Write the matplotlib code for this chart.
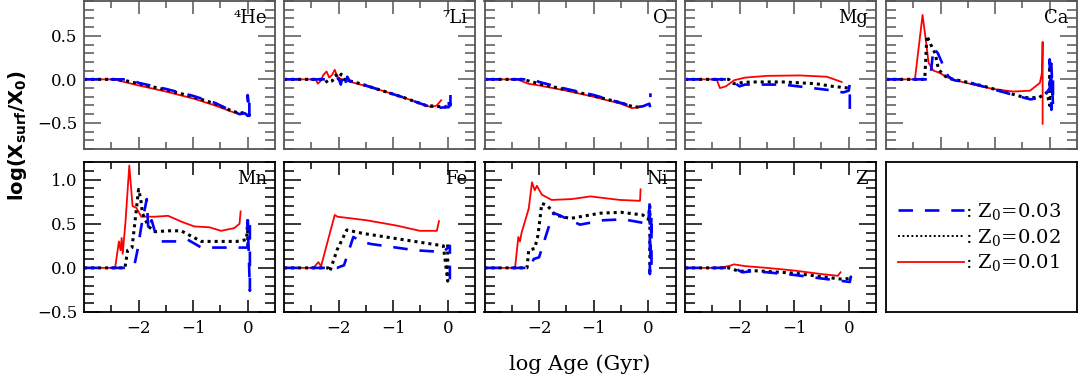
import matplotlib
matplotlib.use("Agg")
import matplotlib.pyplot as plt
from matplotlib.ticker import MultipleLocator, FixedLocator
from matplotlib.lines import Line2D

plt.rcParams['font.family'] = 'DejaVu Serif'
plt.rcParams['mathtext.fontset'] = 'custom'
plt.rcParams['mathtext.rm'] = 'DejaVu Serif'
plt.rcParams['mathtext.bf'] = 'DejaVu Sans:bold'

# ---- data: (log age, log Xsurf/X0) per element and initial Z ----
# Z0 = 0.01 (red), 0.02 (black), 0.03 (blue)
he_red = ([-3.0, -2.45, -2.2, -2.0, -1.5, -1.0, -0.6, -0.3, -0.15, -0.1],
          [0.0, 0.0, -0.04, -0.07, -0.14, -0.22, -0.3, -0.37, -0.4, -0.38])
he_black = ([-3.0, -2.45, -2.2, -2.0, -1.5, -1.0, -0.6, -0.3, -0.15, -0.05],
            [0.0, 0.0, -0.02, -0.05, -0.12, -0.2, -0.28, -0.36, -0.39, -0.38])
he_blue = ([-3.0, -2.15, -2.0, -1.5, -1.0, -0.6, -0.3, -0.15, -0.05, 0.0, 0.0, 0.02, 0.03, 0.03],
           [0.0, 0.0, -0.04, -0.11, -0.19, -0.27, -0.36, -0.4, -0.39, -0.42, -0.18, -0.3, -0.42, -0.2])

li_red = ([-3.0, -2.42, -2.38, -2.33, -2.28, -2.22, -2.17, -2.12, -2.07, -2.02, -1.95, -1.6, -1.2, -0.8, -0.4, -0.3, -0.2, -0.12],
          [0.0, 0.0, -0.05, -0.02, 0.05, 0.09, 0.02, 0.05, 0.11, 0.03, 0.0, -0.06, -0.13, -0.21, -0.3, -0.32, -0.3, -0.24])
li_black = ([-3.0, -2.25, -2.2, -2.12, -2.05, -2.0, -1.95, -1.9, -1.6, -1.2, -0.8, -0.4, -0.2, -0.05, 0.0],
            [0.0, 0.0, -0.04, -0.02, 0.05, 0.02, 0.06, 0.0, -0.05, -0.13, -0.21, -0.3, -0.31, -0.32, -0.3])
li_blue = ([-3.0, -2.05, -2.0, -1.96, -1.92, -1.88, -1.84, -1.8, -1.6, -1.2, -0.8, -0.4, -0.2, -0.05, 0.02, 0.02, 0.05, 0.05],
           [0.0, 0.0, 0.01, -0.06, 0.04, -0.05, 0.03, -0.02, -0.05, -0.13, -0.21, -0.3, -0.33, -0.32, -0.32, -0.2, -0.3, -0.18])

o_red = ([-3.0, -2.4, -2.2, -2.0, -1.5, -1.0, -0.5, -0.3, -0.15],
         [0.0, 0.0, -0.05, -0.07, -0.13, -0.2, -0.28, -0.33, -0.32])
o_black = ([-3.0, -2.3, -2.0, -1.5, -1.0, -0.5, -0.25, -0.1],
           [0.0, 0.0, -0.05, -0.12, -0.19, -0.27, -0.32, -0.31])
o_blue = ([-3.0, -2.1, -2.0, -1.5, -1.0, -0.5, -0.25, -0.1, 0.02, 0.04, 0.04],
          [0.0, 0.0, -0.03, -0.11, -0.18, -0.27, -0.32, -0.31, -0.28, -0.33, -0.16])

mg_red = ([-3.0, -2.42, -2.36, -2.25, -2.1, -1.9, -1.5, -0.9, -0.4, -0.13],
          [0.0, 0.0, -0.1, -0.08, -0.01, 0.02, 0.04, 0.045, 0.03, -0.03])
mg_black = ([-3.0, -2.2, -2.1, -2.0, -1.8, -1.2, -0.6, -0.3, 0.0],
            [0.0, 0.0, -0.05, -0.04, -0.03, -0.03, -0.05, -0.08, -0.1])
mg_blue = ([-3.0, -2.18, -2.0, -1.9, -1.6, -1.2, -0.8, -0.4, -0.1, 0.0, 0.02, 0.02],
           [0.0, 0.0, -0.08, -0.06, -0.06, -0.06, -0.09, -0.12, -0.15, -0.13, -0.05, -0.34])

ca_red = ([-3.0, -2.47, -2.33, -2.27, -2.22, -2.13, -2.04, -1.8, -1.4, -1.04, -0.67, -0.36, -0.18, -0.14, -0.13, -0.13],
          [0.0, 0.0, 0.74, 0.45, 0.19, 0.1, 0.08, 0.0, -0.06, -0.11, -0.14, -0.13, -0.04, 0.08, 0.43, -0.51])
ca_black = ([-3.0, -2.29, -2.25, -2.18, -2.1, -2.04, -1.95, -1.85, -1.6, -1.2, -0.8, -0.45, -0.2, -0.05, 0.0, 0.0, 0.02],
            [0.0, 0.0, 0.5, 0.4, 0.3, 0.12, 0.05, 0.01, -0.02, -0.08, -0.15, -0.21, -0.21, -0.15, -0.3, 0.15, -0.2])
ca_blue = ([-3.0, -2.19, -2.13, -2.05, -1.98, -1.93, -1.85, -1.75, -1.4, -1.0, -0.6, -0.35, -0.1, 0.0, 0.0, 0.03, 0.03, 0.06, 0.06],
           [0.0, 0.0, 0.36, 0.3, 0.2, 0.1, 0.03, -0.01, -0.05, -0.12, -0.19, -0.23, -0.2, -0.1, 0.23, -0.35, 0.18, -0.3, 0.0])

mn_red = ([-3.0, -2.43, -2.36, -2.33, -2.31, -2.29, -2.24, -2.17, -2.11, -2.04, -1.95, -1.7, -1.46, -1.2, -0.98, -0.7, -0.49, -0.25, -0.15, -0.13],
          [0.0, 0.0, 0.3, 0.2, 0.34, 0.16, 0.52, 1.16, 0.7, 0.68, 0.58, 0.58, 0.59, 0.52, 0.47, 0.46, 0.42, 0.45, 0.5, 0.64])
mn_black = ([-3.0, -2.25, -2.2, -2.12, -2.07, -2.0, -1.96, -1.93, -1.82, -1.7, -1.45, -1.22, -0.85, -0.5, -0.2, -0.02, 0.0, 0.0],
            [0.0, 0.0, 0.2, 0.23, 0.5, 0.89, 0.78, 0.62, 0.47, 0.41, 0.42, 0.42, 0.3, 0.3, 0.3, 0.32, 0.55, 0.25])
mn_blue = ([-3.0, -2.16, -2.07, -2.02, -1.95, -1.85, -1.82, -1.76, -1.7, -1.58, -1.24, -1.1, -0.85, -0.4, -0.07, 0.0, 0.0, 0.04, 0.04],
           [0.0, 0.0, 0.05, 0.2, 0.47, 0.78, 0.42, 0.54, 0.41, 0.3, 0.3, 0.32, 0.23, 0.23, 0.23, 0.23, 0.54, -0.26, 0.5])

fe_red = ([-3.0, -2.46, -2.37, -2.32, -2.2, -2.07, -2.02, -1.49, -0.94, -0.51, -0.2, -0.16],
          [0.0, 0.0, 0.065, 0.02, 0.3, 0.6, 0.58, 0.54, 0.48, 0.42, 0.42, 0.53])
fe_black = ([-3.0, -2.19, -2.16, -2.03, -1.85, -1.55, -0.82, -0.08, 0.0, 0.0],
            [0.0, 0.0, -0.04, 0.2, 0.43, 0.39, 0.32, 0.25, -0.15, 0.3])
fe_blue = ([-3.0, -2.03, -1.9, -1.73, -1.55, -1.4, -0.6, -0.08, 0.04, 0.04],
           [0.0, 0.0, 0.03, 0.35, 0.29, 0.27, 0.2, 0.18, 0.25, -0.13])

ni_red = ([-3.0, -2.44, -2.38, -2.35, -2.32, -2.19, -2.13, -2.08, -2.04, -1.95, -1.77, -1.4, -1.06, -0.52, -0.15, -0.14],
          [0.0, 0.0, 0.35, 0.3, 0.4, 0.67, 0.97, 0.88, 0.93, 0.83, 0.77, 0.78, 0.81, 0.77, 0.76, 0.89])
ni_black = ([-3.0, -2.22, -2.19, -2.08, -2.02, -1.95, -1.86, -1.78, -1.71, -1.43, -0.88, -0.5, -0.1, 0.0, 0.03, 0.03],
            [0.0, 0.0, 0.2, 0.22, 0.37, 0.73, 0.71, 0.66, 0.6, 0.56, 0.62, 0.63, 0.6, 0.55, 0.7, -0.09])
ni_blue = ([-3.0, -2.16, -2.1, -2.0, -1.82, -1.73, -1.64, -1.43, -1.25, -0.82, -0.45, 0.0, 0.03, 0.03, 0.06, 0.06],
           [0.0, 0.0, 0.1, 0.12, 0.47, 0.62, 0.6, 0.54, 0.49, 0.54, 0.55, 0.5, 0.76, -0.07, 0.6, 0.0])

z_red = ([-3.0, -2.4, -2.2, -2.1, -1.9, -1.5, -1.0, -0.5, -0.2, -0.15],
         [0.0, 0.0, 0.02, 0.04, 0.02, 0.0, -0.03, -0.07, -0.09, -0.05])
z_black = ([-3.0, -2.2, -2.0, -1.8, -1.5, -1.0, -0.5, -0.1, 0.0],
           [0.0, 0.0, -0.04, -0.03, -0.04, -0.06, -0.1, -0.13, -0.12])
z_blue = ([-3.0, -2.1, -1.95, -1.8, -1.5, -1.0, -0.5, -0.1, 0.02, 0.04, 0.04],
          [0.0, 0.0, -0.05, -0.04, -0.05, -0.08, -0.12, -0.15, -0.16, -0.1, -0.2])

panel_names = ['\u2074He', '\u2077Li', 'O', 'Mg', 'Ca', 'Mn', 'Fe', 'Ni', 'Z']
panel_data = [(he_red, he_black, he_blue), (li_red, li_black, li_blue),
              (o_red, o_black, o_blue), (mg_red, mg_black, mg_blue),
              (ca_red, ca_black, ca_blue), (mn_red, mn_black, mn_blue),
              (fe_red, fe_black, fe_blue), (ni_red, ni_black, ni_blue),
              (z_red, z_black, z_blue)]
z_labels = [r': $\mathrm{Z_0}$=0.03', r': $\mathrm{Z_0}$=0.02', r': $\mathrm{Z_0}$=0.01']
x_major = [-2, -1, 0]
x_minor = [-2.5, -1.5, -0.5]

W, H = 1078, 378
fig = plt.figure(figsize=(W / 100, H / 100), dpi=100)

col_left = [84, 284, 484.5, 685, 886]
col_w = 191
rows = [(1, 149, (-0.8, 0.9), '#555555'), (162, 312, (-0.5, 1.2), 'black')]

red_kw = dict(color='#ff0000', lw=1.3, ls='-')
black_kw = dict(color='black', lw=2.2, ls=(0, (1, 1.3)))
blue_kw = dict(color='#0000ff', lw=1.9, ls=(0, (5.5, 4.5)))

axes = []
for i in range(10):
    r, c = divmod(i, 5)
    top, bot, ylim, ecol = rows[r]
    ax = fig.add_axes([col_left[c] / W, 1 - bot / H, col_w / W, (bot - top) / H])
    axes.append(ax)
    for s in ax.spines.values():
        s.set_color(ecol)
        s.set_linewidth(1.3)
    if i == 9:
        ax.set_xticks([])
        ax.set_yticks([])
        continue
    red, black, blue = panel_data[i]
    ax.plot(red[0], red[1], **red_kw)
    ax.plot(black[0], black[1], **black_kw)
    ax.plot(blue[0], blue[1], **blue_kw)
    ax.set_xlim(-3, 0.5)
    ax.set_ylim(*ylim)
    ax.xaxis.set_major_locator(FixedLocator(x_major))
    ax.xaxis.set_minor_locator(FixedLocator(x_minor))
    ax.yaxis.set_major_locator(MultipleLocator(0.5))
    ax.yaxis.set_minor_locator(MultipleLocator(0.1))
    ax.tick_params(which='both', direction='in', top=True, right=True,
                   colors=ecol, labelcolor='black', labelsize=12, width=1.1)
    ax.tick_params(axis='x', which='major', length=9, pad=6)
    ax.tick_params(axis='x', which='minor', length=5)
    ax.tick_params(axis='y', which='major', length=12, pad=5)
    ax.tick_params(axis='y', which='minor', length=7)
    if c != 0:
        ax.tick_params(labelleft=False)
    if r == 0:
        ax.tick_params(labelbottom=False)
    ax.text(0.958, 0.885, panel_names[i], transform=ax.transAxes,
            ha='right', va='center', fontsize=13)

# legend panel
leg_black = dict(black_kw, lw=1.4)
handles = [Line2D([], [], **blue_kw), Line2D([], [], **leg_black), Line2D([], [], **red_kw)]
axes[9].legend(handles, z_labels, loc='center left', bbox_to_anchor=(0.0, 0.5),
               frameon=False, fontsize=14, handlelength=3.4, handletextpad=0.05,
               borderaxespad=0.2, labelspacing=0.25)

fig.text(580 / W, 1 - 364 / H, 'log Age (Gyr)', ha='center', va='center', fontsize=15)
fig.text(18 / W, 1 - 136 / H, r'$\mathbf{log(X_{surf}/X_0)}$', rotation=90,
         ha='center', va='center', fontsize=14)

fig.savefig('out.png', dpi=100)
